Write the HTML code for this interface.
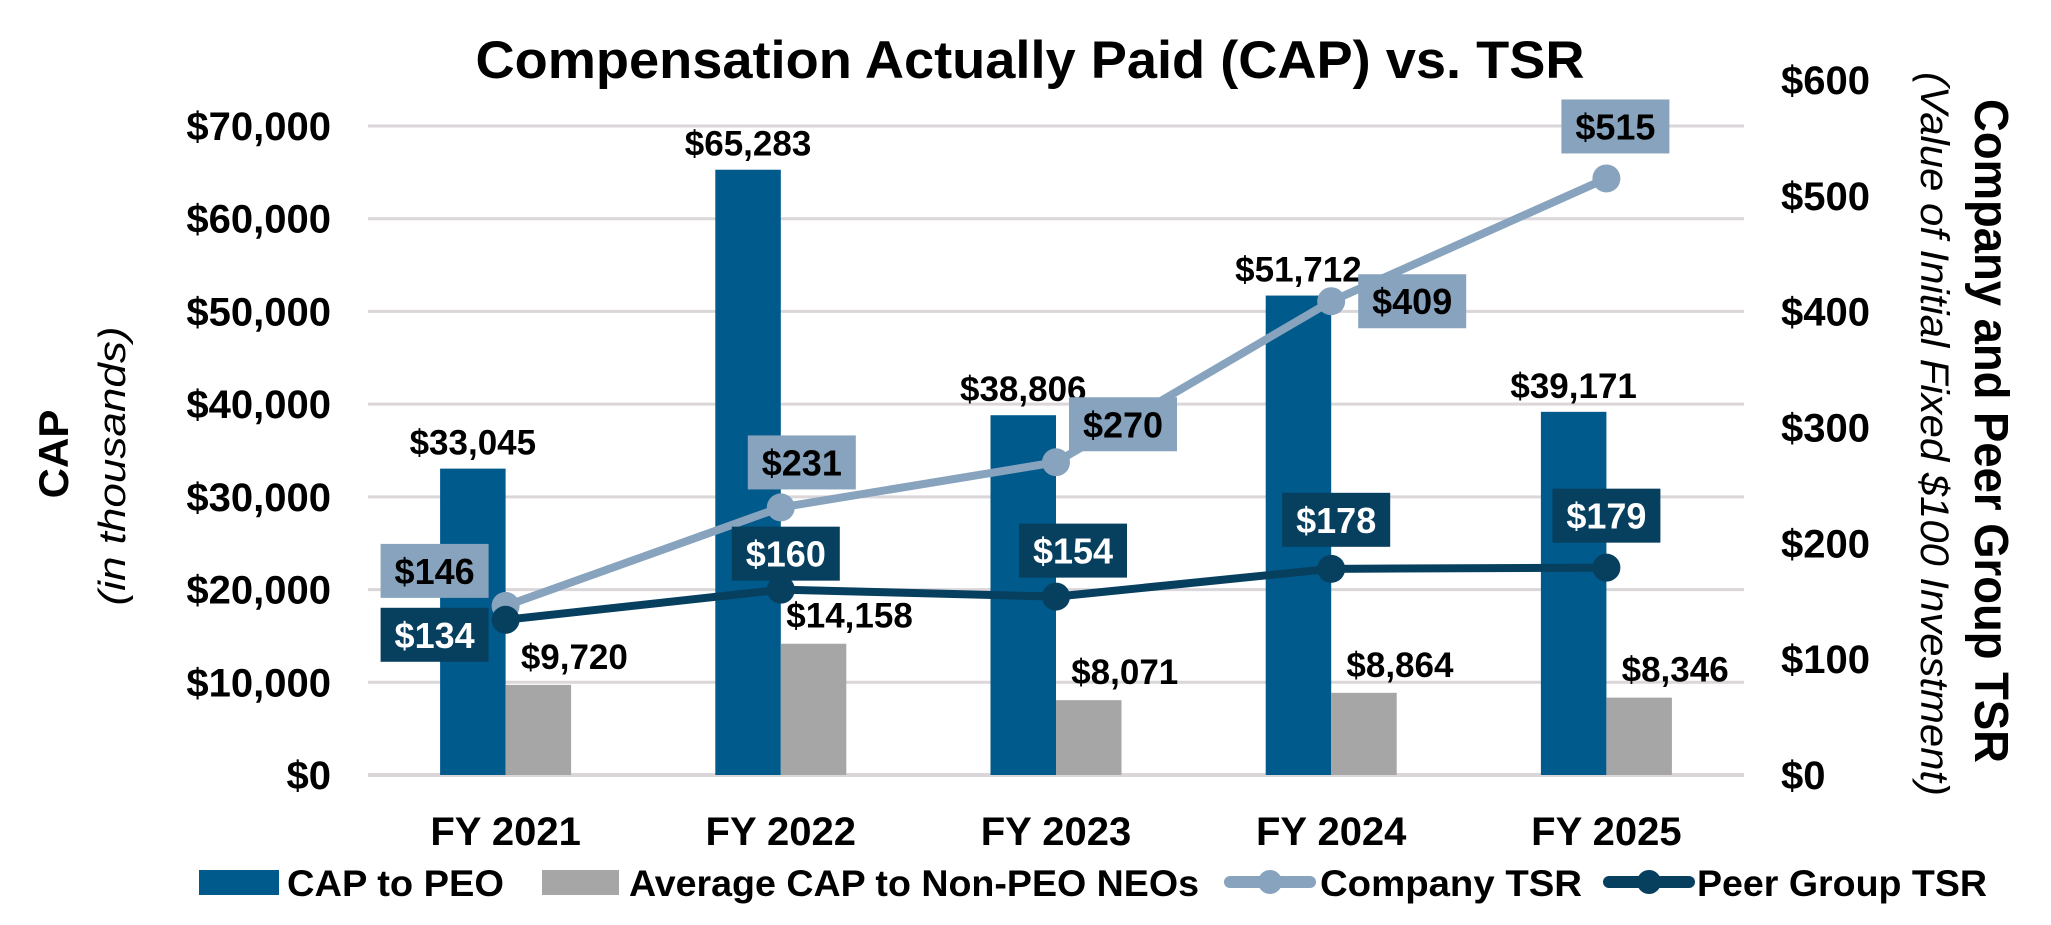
<!DOCTYPE html>
<html><head><meta charset="utf-8"><style>
html,body{margin:0;padding:0;background:#fff;}
svg{display:block;font-family:"Liberation Sans",Arial,sans-serif;}
</style></head><body>
<svg id="chart" width="2051" height="925" viewBox="0 0 2051 925" xmlns="http://www.w3.org/2000/svg">
<text x="1030" y="78" text-anchor="middle" font-size="53" font-weight="bold" textLength="1109" lengthAdjust="spacingAndGlyphs">Compensation Actually Paid (CAP) vs. TSR</text>
<text transform="translate(68,454) rotate(-90)" text-anchor="middle" font-size="42" font-weight="bold">CAP</text>
<text transform="translate(125,466) rotate(-90)" text-anchor="middle" font-size="38" font-style="italic" textLength="279" lengthAdjust="spacingAndGlyphs">(in thousands)</text>
<text transform="translate(1975,431) rotate(90)" text-anchor="middle" font-size="48" font-weight="bold" textLength="664" lengthAdjust="spacingAndGlyphs">Company and Peer Group TSR</text>
<text transform="translate(1921,434) rotate(90)" text-anchor="middle" font-size="40" font-style="italic" textLength="724" lengthAdjust="spacingAndGlyphs">(Value of Initial Fixed $100 Investment)</text>
<g id="grid"></g><g id="bars"></g><g id="lines"></g><g id="labels"></g><g id="axes"></g>
<g id="legend">
<rect x="199" y="870" width="80" height="25" fill="#015A8C"/>
<text x="287" y="896" font-size="37" font-weight="bold" textLength="217" lengthAdjust="spacingAndGlyphs">CAP to PEO</text>
<rect x="542" y="870" width="77" height="25" fill="#A6A6A6"/>
<text x="629" y="896" font-size="37" font-weight="bold" textLength="570" lengthAdjust="spacingAndGlyphs">Average CAP to Non-PEO NEOs</text>
<line x1="1230" y1="882" x2="1310" y2="882" stroke="#87A3BD" stroke-width="12" stroke-linecap="round"/>
<circle cx="1270" cy="882" r="12" fill="#87A3BD"/>
<text x="1320" y="896" font-size="37" font-weight="bold" textLength="262" lengthAdjust="spacingAndGlyphs">Company TSR</text>
<line x1="1609" y1="882" x2="1689" y2="882" stroke="#073F5F" stroke-width="12" stroke-linecap="round"/>
<circle cx="1649" cy="882" r="12" fill="#073F5F"/>
<text x="1697" y="896" font-size="37" font-weight="bold" textLength="290" lengthAdjust="spacingAndGlyphs">Peer Group TSR</text>
</g>
</svg>
<script>
const categories = ["FY 2021","FY 2022","FY 2023","FY 2024","FY 2025"];
const capPeo = [33045,65283,38806,51712,39171];
const capNeo = [9720,14158,8071,8864,8346];
const companyTsr = [146,231,270,409,515];
const peerTsr = [134,160,154,178,179];
const leftTicks = [0,10000,20000,30000,40000,50000,60000,70000];
const rightTicks = [0,100,200,300,400,500,600];

const NS="http://www.w3.org/2000/svg";
const X0=368, X1=1744, Y0=775, YTOP=126, RTOP=80;
const band=(X1-X0)/categories.length, barW=65.5;
const xC=i=>X0+band*(i+0.5);
const yL=v=>Y0-(v/70000)*(Y0-YTOP);
const yR=v=>Y0-(v/600)*(Y0-RTOP);
const fmt=v=>"$"+v.toLocaleString("en-US");
function mk(tag,attrs,parent,text){const e=document.createElementNS(NS,tag);for(const k in attrs)e.setAttribute(k,attrs[k]);if(text!==undefined)e.textContent=text;document.getElementById(parent).appendChild(e);return e;}

leftTicks.forEach(t=>{
  const g=mk("line",{x1:X0,x2:X1,y1:yL(t),y2:yL(t),stroke:"#DAD6D9","stroke-width":t===0?4:3},"grid");
  
  
  const l=mk("text",{x:331,y:yL(t)+14,"text-anchor":"end","font-size":40,"font-weight":"bold"},"axes",fmt(t));
  
  
});
rightTicks.forEach(t=>{
  const l=mk("text",{x:1781,y:yR(t)+14,"font-size":40,"font-weight":"bold"},"axes",fmt(t));
  
  
});
categories.forEach((c,i)=>{
  const l=mk("text",{x:xC(i),y:845,"text-anchor":"middle","font-size":40,"font-weight":"bold"},"axes",c);
  
  
  const b1=mk("rect",{x:xC(i)-barW,y:yL(capPeo[i]),width:barW,height:Y0-yL(capPeo[i]),fill:"#015A8C"},"bars");
  
  
  const b2=mk("rect",{x:xC(i),y:yL(capNeo[i]),width:barW,height:Y0-yL(capNeo[i]),fill:"#A6A6A6"},"bars");
  
  
  const t1=mk("text",{x:xC(i)-barW/2,y:yL(capPeo[i])-14,"text-anchor":"middle","font-size":35,"font-weight":"bold"},"labels",fmt(capPeo[i]));
  
  
  const t2=mk("text",{x:xC(i)+barW/2+36,y:yL(capNeo[i])-16,"text-anchor":"middle","font-size":35,"font-weight":"bold"},"labels",fmt(capNeo[i]));
  
  
});
function series(vals,color,name){
  const pts=vals.map((v,i)=>xC(i)+","+yR(v)).join(" ");
  const p=mk("polyline",{points:pts,fill:"none",stroke:color,"stroke-width":8,"stroke-linejoin":"round"},"lines");
  
  
  vals.forEach((v,i)=>{
    const c=mk("circle",{cx:xC(i),cy:yR(v),r:14,fill:color},"lines");
    
    
  });
}
series(companyTsr,"#87A3BD","company-tsr");
series(peerTsr,"#073F5F","peer-tsr");
const compOff=[[-71,-35],[21,-45],[67,-38],[81,0],[9,-52]];
const peerOff=[[-71,15],[5,-36],[17,-46],[5,-49],[0,-52]];
function boxes(vals,off,fill,tc,name){
  vals.forEach((v,i)=>{
    const cx=xC(i)+off[i][0], cy=yR(v)+off[i][1];
    const r=mk("rect",{x:cx-54,y:cy-27,width:108,height:54,fill:fill},"labels");
    
    
    const t=mk("text",{x:cx,y:cy+13,"text-anchor":"middle","font-size":36,"font-weight":"bold",fill:tc},"labels",fmt(v));
    
    
  });
}
boxes(companyTsr,compOff,"#87A3BD","#000","company-tsr");
boxes(peerTsr,peerOff,"#073F5F","#fff","peer-tsr");
</script>
</body></html>
